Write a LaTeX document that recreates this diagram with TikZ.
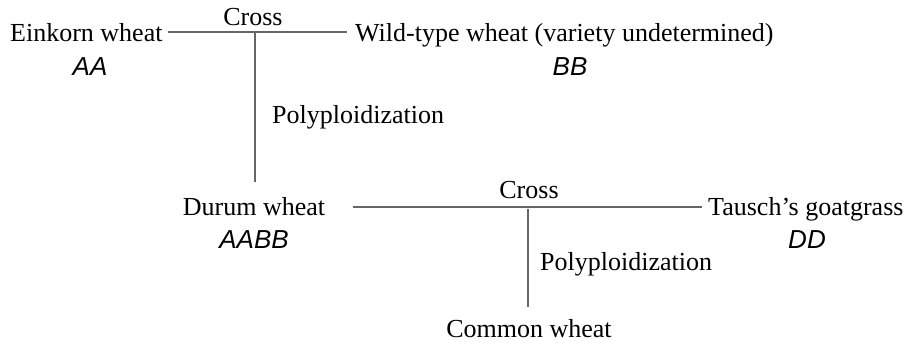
\documentclass[tikz,border=0pt]{standalone}
\usepackage{fontspec}
\setmainfont{Liberation Serif}
\newfontfamily\genomefont{Liberation Sans}
\begin{document}
\begin{tikzpicture}[x=1pt,y=-1pt,
  txt/.style={inner sep=0pt,font=\fontsize{26}{30}\selectfont},
  gen/.style={inner sep=0pt,font=\fontsize{26}{30}\selectfont\genomefont\itshape},
  link/.style={draw=black!60,line width=1.3pt}]
\useasboundingbox (0,0) rectangle (916,345);
% nodes
\node[txt,anchor=base west] (ein) at (10,42) {Einkorn wheat};
\node[gen,anchor=base] (aa) at (90,76) {AA};
\node[txt,anchor=base west] (wild) at (355,42) {Wild-type wheat (variety undetermined)};
\node[gen,anchor=base] (bb) at (570,76) {BB};
\node[txt,anchor=base] (cross1) at (253,26) {Cross};
\node[txt,anchor=base west] (poly1) at (272,123) {Polyploidization};
\node[txt,anchor=base] (durum) at (254,215) {Durum wheat};
\node[gen,anchor=base] (aabb) at (254,248) {AABB};
\node[txt,anchor=base west] (tausch) at (708,215) {Tausch's goatgrass};
\node[gen,anchor=base] (dd) at (807,248) {DD};
\node[txt,anchor=base] (cross2) at (529,198) {Cross};
\node[txt,anchor=base west] (poly2) at (540,270) {Polyploidization};
\node[txt,anchor=base] (common) at (529,337) {Common wheat};
\coordinate (j1) at (255,32);
\coordinate (j2) at (528,207);
% connectors
\draw[link] ([xshift=5pt]ein.east |- j1) -- ([xshift=-8pt]wild.west |- j1);
\draw[link] (j1) -- ([yshift=15pt]durum.north -| j1);
\draw[link] ([xshift=28pt]durum.east |- j2) -- ([xshift=-6pt]tausch.west |- j2);
\draw[link] ([yshift=-2pt]j2) -- ([yshift=12pt]common.north -| j2);
\end{tikzpicture}
\end{document}
